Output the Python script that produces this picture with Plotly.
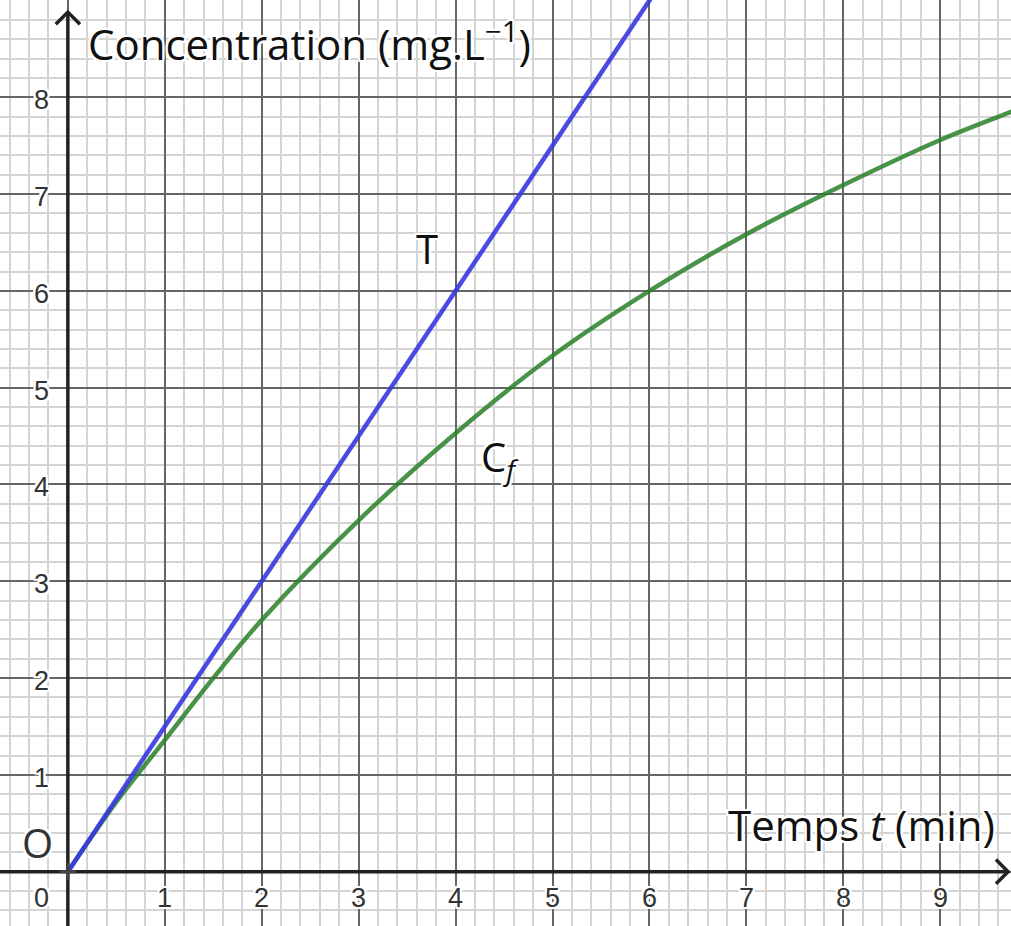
import plotly.graph_objects as go

# Data
cf_t = [0, 0.5, 1, 1.5, 2, 3, 4, 5, 6, 7, 8, 9, 9.73, 9.8]
cf_c = [0, 0.72, 1.36, 2.0, 2.6, 3.63, 4.53, 5.33, 6.0, 6.585, 7.093, 7.559, 7.85, 7.88]
tan_t = [0, 6.2]
tan_c = [0, 9.3]
x_ticks = [1, 2, 3, 4, 5, 6, 7, 8, 9]
y_ticks = [1, 2, 3, 4, 5, 6, 7, 8]

X0, X1 = -0.70, 9.73
Y0, Y1 = -0.561, 9.005

fig = go.Figure()
fig.add_trace(go.Scatter(x=cf_t, y=cf_c, mode="lines", line=dict(color="rgba(40,128,40,0.85)", width=4.5, shape="spline"),
                         hoverinfo="skip", showlegend=False))
fig.add_trace(go.Scatter(x=tan_t, y=tan_c, mode="lines", line=dict(color="rgba(55,55,225,0.9)", width=4.5),
                         hoverinfo="skip", showlegend=False))
fig.add_trace(go.Scatter(x=[0], y=[0], mode="markers", marker=dict(symbol="cross-thin", size=12, line=dict(color="#444", width=3)),
                         hoverinfo="skip", showlegend=False))

halo = "2px 0 0 white, -2px 0 0 white, 0 2px 0 white, 0 -2px 0 white, 2px 2px 0 white, -2px -2px 0 white, 2px -2px 0 white, -2px 2px 0 white"
tick_font = dict(family="Liberation Sans", size=27, color="#333", shadow=halo)
ann = []
for v in x_ticks:
    ann.append(dict(x=v, y=-0.267, text=str(v), showarrow=False, font=tick_font, xanchor="center", yanchor="middle"))
for v in y_ticks:
    ann.append(dict(x=-0.27, y=v, text=str(v), showarrow=False, font=tick_font, xanchor="center", yanchor="middle", yshift=-3))
ann.append(dict(x=-0.27, y=-0.267, text="0", showarrow=False, font=tick_font, xanchor="center", yanchor="middle"))

title_font = dict(family="Open Sans", size=42, color="#111", shadow=halo)
ann.append(dict(x=0.19, y=8.58, text="Concentration (mg.L<sup>−1</sup>)", showarrow=False, font=title_font,
                xanchor="left", yanchor="middle"))
ann.append(dict(x=9.59, y=0.49, text="Temps <i>t</i> (min)", showarrow=False, font=title_font,
                xanchor="right", yanchor="middle"))
lab_font = dict(family="Open Sans", size=40, color="#111", shadow=halo)
ann.append(dict(x=3.70, y=6.44, text="T", showarrow=False, font=lab_font))
ann.append(dict(x=4.46, y=4.27, text="C<sub><i>f</i></sub>", showarrow=False, font=lab_font))
ann.append(dict(x=-0.31, y=0.297, text="O", showarrow=False, font=dict(family="Open Sans", size=40, color="#333", shadow=halo)))

shapes = [
    dict(type="line", x0=0, x1=0, y0=Y0, y1=8.88, line=dict(color="#222", width=3.5), layer="between"),
    dict(type="line", x0=X0, x1=9.70, y0=0, y1=0, line=dict(color="#222", width=3.5), layer="between"),
    dict(type="path", path="M -0.125,8.755 L 0,8.88 L 0.125,8.755", line=dict(color="#222", width=3.5), layer="between"),
    dict(type="path", path="M 9.575,0.125 L 9.70,0 L 9.575,-0.125", line=dict(color="#222", width=3.5), layer="between"),
]

axis_common = dict(showticklabels=False, zeroline=False, showline=False, ticks="",
                   gridcolor="#666", gridwidth=1.5,
                   minor=dict(showgrid=True, gridcolor="#d4d4d4", gridwidth=1.5))
fig.update_layout(
    width=1011, height=926, margin=dict(l=0, r=0, t=0, b=0),
    plot_bgcolor="white", paper_bgcolor="white",
    xaxis=dict(range=[X0, X1], dtick=1, tick0=0, minor_dtick=0.2, **axis_common),
    yaxis=dict(range=[Y0, Y1], dtick=1, tick0=0, minor_dtick=0.2, **axis_common),
    annotations=ann, shapes=shapes,
)
fig.write_html("out.html", config={"displayModeBar": False},
               post_script="document.body.style.margin='0';document.body.style.overflow='hidden';")
